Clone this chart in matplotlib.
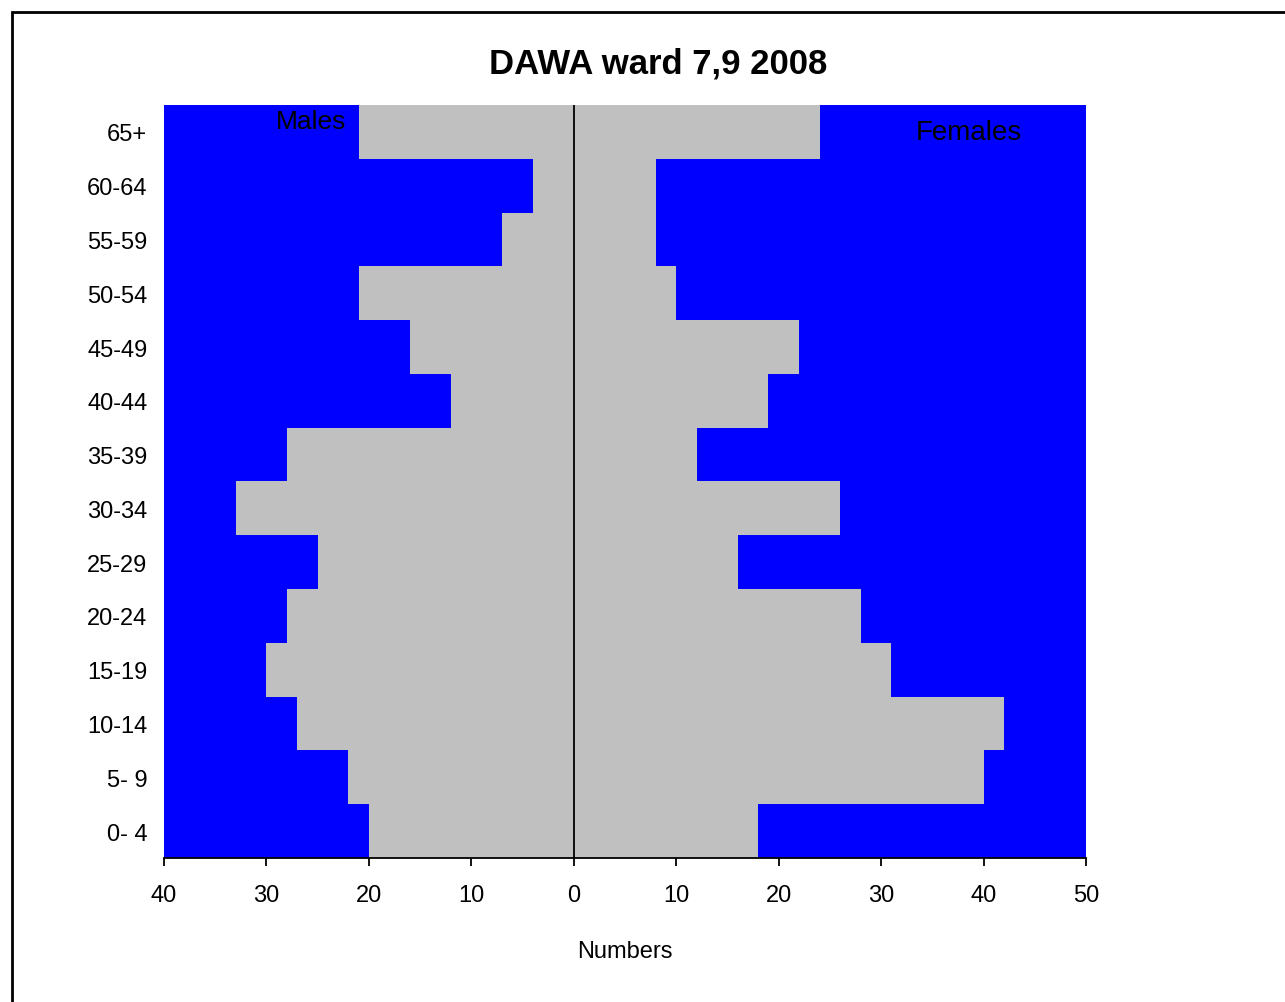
import numpy as np
import matplotlib.pyplot as plt
from matplotlib.patches import Rectangle

plt.rcParams['font.family'] = ['Liberation Sans', 'DejaVu Sans']

age_groups = ["0- 4", "5- 9", "10-14", "15-19", "20-24", "25-29", "30-34",
              "35-39", "40-44", "45-49", "50-54", "55-59", "60-64", "65+"]
males = [20, 22, 27, 30, 28, 25, 33, 28, 12, 16, 21, 7, 4, 21]
females = [18, 40, 42, 31, 28, 16, 26, 12, 19, 22, 10, 8, 8, 24]
xticks = [-40, -30, -20, -10, 0, 10, 20, 30, 40, 50]

fig = plt.figure(figsize=(12.85, 10.03), dpi=100)
ax = fig.add_axes([0.1276, 0.1436, 0.7175, 0.7507])
ax.set_facecolor('#0000FF')

y = np.arange(len(age_groups))
ax.barh(y, -np.array(males), height=1.0, color='#C0C0C0', linewidth=0)
ax.barh(y, females, height=1.0, color='#C0C0C0', linewidth=0)
ax.axvline(0, color='black', linewidth=1.3)

ax.set_xlim(-40, 50)
ax.set_ylim(-0.5, len(age_groups) - 0.5)
ax.set_xticks(xticks)
ax.set_xticklabels([str(abs(v)) for v in xticks], fontsize=17)
ax.set_yticks(y)
ax.set_yticklabels(age_groups, fontsize=17)
ax.tick_params(axis='y', length=0, pad=12)
ax.tick_params(axis='x', length=6, width=1.3, pad=13)
for s in ['left', 'right', 'top']:
    ax.spines[s].set_visible(False)
ax.spines['bottom'].set_linewidth(1.3)

ax.set_xlabel("Numbers", fontsize=17, labelpad=24)
ax.text(-25.6, 13.2, "Males", fontsize=19, ha='center', va='center')
ax.text(38.6, 13.0, "Females", fontsize=20, ha='center', va='center')
fig.text(0.512, 0.936, "DAWA ward 7,9 2008", fontsize=25, fontweight='bold',
         ha='center', va='center')

fig.patches.append(Rectangle((0.009, -0.1), 1.2, 1.087, transform=fig.transFigure,
                             fill=False, edgecolor='black', linewidth=2))

fig.savefig("out.png", dpi=100)
